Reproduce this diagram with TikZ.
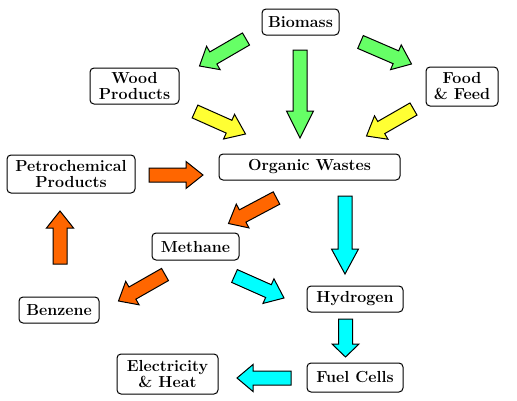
\documentclass[tikz,border=0pt]{standalone}
\usetikzlibrary{calc}
\definecolor{leafgreen}{RGB}{102,255,102}
\definecolor{wasteyellow}{RGB}{255,255,51}
\definecolor{petroorange}{RGB}{255,102,0}
\definecolor{gascyan}{RGB}{0,255,255}
\def\px{0.75pt}
\def\sw{5.25pt}
\def\hw{10.125pt}
% colour, tail, tip, head length (px)
\newcommand\blockarrow[4]{%
  \coordinate (ba-b) at ($(#3)!#4*\px!(#2)$);
  \draw[fill=#1] ($(#2)!\sw!90:(#3)$) -- ($(ba-b)!\sw!-90:(#2)$) -- ($(ba-b)!\hw!-90:(#2)$)
    -- (#3) -- ($(ba-b)!\hw!90:(#2)$) -- ($(ba-b)!\sw!90:(#2)$) -- ($(#2)!\sw!-90:(#3)$) -- cycle;}
\tikzset{
  stage/.style={draw, rounded corners=3pt, fill=white, align=center, inner sep=0pt,
    font=\fontsize{12}{12}\selectfont\bfseries},
  box/.style 2 args={minimum width=#1*\px, minimum height=#2*\px}
}

\begin{document}
\begin{tikzpicture}[x=0.75pt, y=-0.75pt, line width=0.75pt]
	\useasboundingbox (0,0) rectangle (517,400);
	
	%%%%% stages %%%%%
	\node[stage, box={77}{26}] (biomass) at (300.5,22) {Biomass};
	\node[stage, box={72}{39}] (food) at (462,86.5) {Food\\\& Feed};
	\node[stage, box={89}{36}] (wood) at (134.5,86) {Wood\\Products};
	\node[stage, box={128}{38}] (petro) at (71,174) {Petrochemical\\Products};
	\node[stage, box={181}{26}] (organic) at (309.5,167) {Organic Wastes};
	\node[stage, box={87}{27}] (methane) at (195.5,246.5) {Methane};
	\node[stage, box={80}{26}] (benzene) at (59,310) {Benzene};
	\node[stage, box={101}{40}] (power) at (167.5,374) {Electricity\\\& Heat};
	\node[stage, box={96}{26}] (hydrogen) at (355,299) {Hydrogen};
	\node[stage, box={96}{29}] (fuel) at (355,377.5) {Fuel Cells};
	
	%%%%% arrow ends %%%%%
	\coordinate (bw-s) at (246,39);     \coordinate (bw-e) at (199.5,66);
	\coordinate (bo-s) at (300,50);     \coordinate (bo-e) at (300,138);
	\coordinate (bf-s) at (360.5,42);   \coordinate (bf-e) at (411.5,64);
	\coordinate (wo-s) at (195,111.5);  \coordinate (wo-e) at (245.5,134);
	\coordinate (fo-s) at (413.5,109);  \coordinate (fo-e) at (366.5,136);
	\coordinate (po-s) at (149,175);    \coordinate (po-e) at (203,175);
	\coordinate (om-s) at (276.5,198);  \coordinate (om-e) at (228.5,223.5);
	\coordinate (oh-s) at (345,196);    \coordinate (oh-e) at (345,274);
	\coordinate (mh-s) at (234.5,276);  \coordinate (mh-e) at (284,298);
	\coordinate (mb-s) at (165,274.5);  \coordinate (mb-e) at (118.5,301);
	\coordinate (bp-s) at (60,264);     \coordinate (bp-e) at (60,211);
	\coordinate (hf-s) at (345.5,319);  \coordinate (hf-e) at (345.5,357);
	\coordinate (fp-s) at (291,378);    \coordinate (fp-e) at (237,378);
	
	%%%%% arrows %%%%%
	\blockarrow{leafgreen}{bw-s}{bw-e}{16}
	\blockarrow{leafgreen}{bo-s}{bo-e}{27}
	\blockarrow{leafgreen}{bf-s}{bf-e}{17}
	\blockarrow{wasteyellow}{wo-s}{wo-e}{18}
	\blockarrow{wasteyellow}{fo-s}{fo-e}{17}
	\blockarrow{petroorange}{po-s}{po-e}{17}
	\blockarrow{petroorange}{om-s}{om-e}{16}
	\blockarrow{gascyan}{oh-s}{oh-e}{25}
	\blockarrow{gascyan}{mh-s}{mh-e}{17}
	\blockarrow{petroorange}{mb-s}{mb-e}{16}
	\blockarrow{petroorange}{bp-s}{bp-e}{17}
	\blockarrow{gascyan}{hf-s}{hf-e}{13}
	\blockarrow{gascyan}{fp-s}{fp-e}{16}
\end{tikzpicture}
\end{document}
